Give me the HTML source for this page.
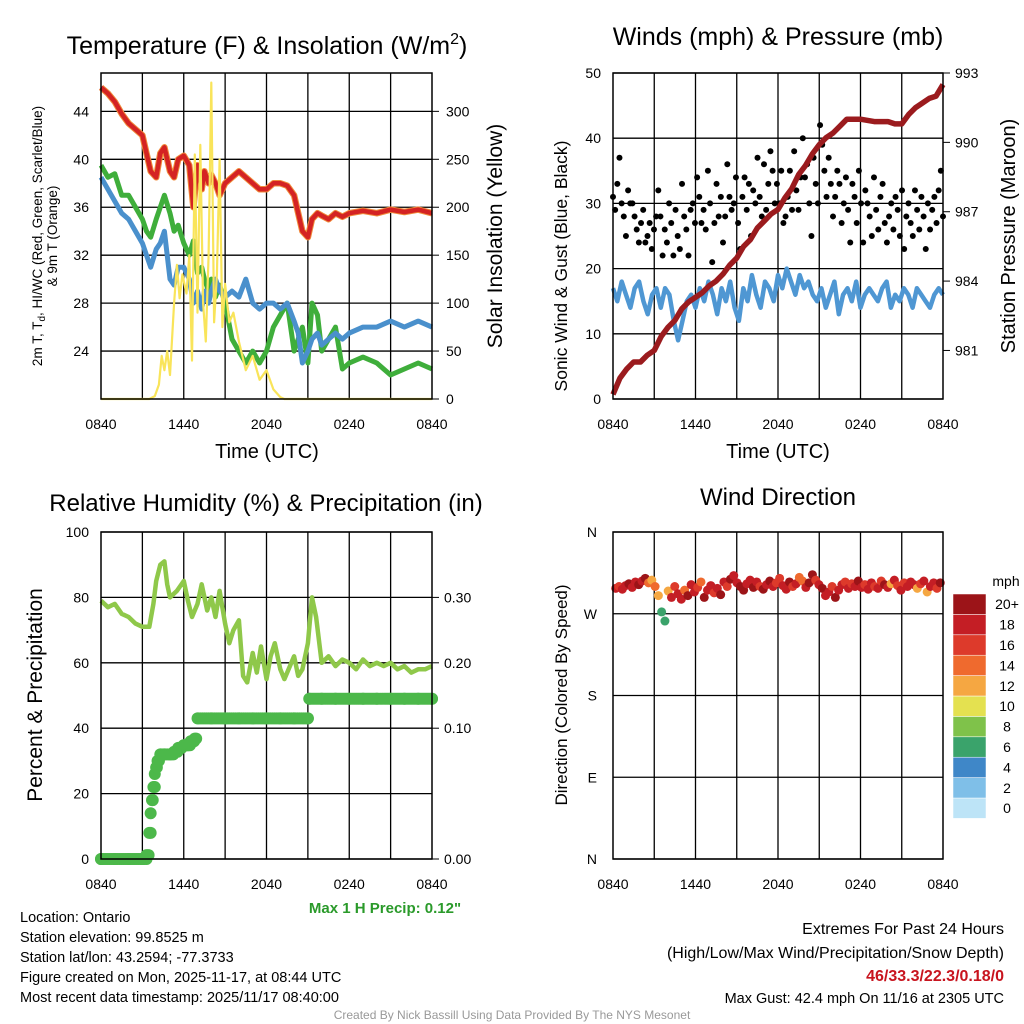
<!DOCTYPE html>
<html><head><meta charset="utf-8">
<style>
body{margin:0;background:#fff;}
svg{display:block;font-family:"Liberation Sans",sans-serif;}
</style></head>
<body>
<svg id="c" width="1024" height="1024" viewBox="0 0 1024 1024" xmlns="http://www.w3.org/2000/svg"></svg>
<script>
// ---------- data ----------
const xTickLabels=["0840","1440","2040","0240","0840"];
const tempT=[0,0.5,1,1.5,2,2.5,3,3.3,3.6,4,4.3,4.6,5,5.3,5.6,6,6.4,6.7,7,7.3,7.5,7.8,8,8.3,8.6,9,9.5,10,10.5,11,11.5,12,12.5,13,13.5,14,14.3,14.6,15,15.3,15.7,16,16.5,17,17.5,18,19,20,21,22,23,24];
const tempRed=[46,45.5,44.8,43.8,43,42.5,42,40.5,39,38.5,40.5,41,39,38.5,40,40.3,39.5,36,39.5,37.5,39,38,38.7,38,37,38,38.5,39,38.5,38,37.5,37.5,38,38,37.8,37,35.5,34,33.5,35,35.5,35.3,35,35.5,35.2,35.5,35.7,35.5,35.8,35.6,35.8,35.5];
const tempGreen=[39.5,38.5,38.8,37,37,36,35,34,33.5,35,36,37,35.5,34,34.5,33,32,33.2,30.5,31,30,29,30,28.5,29.5,28,25,24,23,24,23,24,26,27,28,24,25,26,23,28,27,24,25,26,22.5,23,23.5,23,22,22.5,23,22.5];
const tempBlue=[38.5,37.5,36.5,35.5,35,34,33,32,31,32.5,33,34,30,29.5,31,31,30,28,29,27.5,29,28,29,30,29,28.5,29,28.5,30,28,27.5,28,28,27.5,28,26.5,25.5,23,24,25,25.5,24.5,25,25.5,25,25.5,26,26,26.5,26,26.5,26];
const solarT=[0,3.5,3.9,4.2,4.4,4.6,4.8,5,5.3,5.5,5.7,5.9,6.2,6.4,6.6,6.8,7,7.2,7.4,7.6,7.8,8,8.2,8.4,8.6,8.8,9,9.3,9.6,10,10.5,11,11.5,12,12.5,13,13.3,24];
const solar=[0,0,3,15,45,30,50,25,100,140,105,130,110,150,40,255,90,265,100,60,150,330,80,130,250,75,120,80,90,60,30,45,20,30,10,2,0,0];
const windT=[];const wind=[17,15,18,16,14,17,18,15,13,16,17,14,17,16,12,9,12,15,16,14,17,15,18,16,13,17,15,18,14,12,17,15,19,16,14,18,17,15,19,17,20,18,16,19,17,18,16,15,17,14,16,18,13,16,17,15,18,14,16,17,16,15,17,18,14,16,15,17,16,14,17,16,15,14,16,17,16];
const gustT=[];const gust=[31,29,33,37,30,28,25,32,30,30,28,26,24,27,29,24,25,27,23,26,28,32,28,22,26,24,30,27,22,29,25,23,33,28,26,22,29,30,27,34,31,27,29,26,35,30,21,27,33,28,31,24,28,36,31,29,30,34,27,23,31,34,29,33,25,32,30,37,31,28,36,29,33,38,35,30,33,30,35,27,28,31,35,29,38,32,29,34,40,34,36,30,25,37,33,30,42,39,35,31,37,33,28,31,35,33,27,30,34,29,24,33,31,27,35,30,24,32,30,28,25,34,29,26,31,33,27,24,28,30,26,31,29,25,32,23,28,30,27,25,32,29,26,31,28,23,30,26,29,31,27,32,35,28];
const presT=[0,0.5,1,1.5,2,2.5,3,3.5,4,4.5,5,5.5,6,6.5,7,7.5,8,8.5,9,9.5,10,10.5,11,11.5,12,12.5,13,13.5,14,14.5,15,15.5,16,16.5,17,18,19,20,20.5,21,21.5,22,22.5,23,23.5,24];
const pres=[979.1,979.8,980.2,980.5,980.5,980.8,981.0,981.6,982.0,982.3,982.8,983.1,983.3,983.5,983.8,984.0,984.3,984.7,985.0,985.5,985.8,986.3,986.6,986.9,987.1,987.6,988.0,988.6,989.0,989.5,989.9,990.2,990.4,990.7,991.0,991.0,990.9,990.9,990.8,990.8,991.2,991.5,991.7,991.9,992.0,992.5];
const rhT=[0,0.5,1,1.5,2,2.5,3,3.5,3.8,4,4.3,4.6,4.8,5,5.5,6,6.3,6.6,7,7.3,7.7,8,8.3,8.6,9,9.3,9.6,10,10.3,10.6,11,11.3,11.6,12,12.3,12.6,13,13.3,13.6,14,14.3,14.6,15,15.3,15.6,16,16.5,17,17.5,18,18.5,19,19.5,20,20.5,21,21.5,22,22.5,23,23.5,24];
const rh=[79,77,78,75,74,72,71,71,78,85,90,91,84,80,82,85,79,74,78,84,76,80,74,82,72,66,70,73,56,54,63,57,65,55,62,66,58,55,58,62,56,58,66,80,74,60,62,59,61,60,58,61,59,60,59,60,58,59,57,58,58,59];
const precT=[0,1,2,3,3.3,3.5,3.6,3.7,3.8,3.9,4,4.1,4.3,4.6,5,5.3,5.6,6,6.3,6.5,6.8,7,8,9,10,11,12,13,14,15,15.1,16,17,18,19,20,21,22,23,24];
const precip=[0,0,0,0,0.003,0.02,0.035,0.045,0.055,0.065,0.07,0.075,0.08,0.08,0.08,0.082,0.085,0.087,0.087,0.09,0.092,0.115,0.115,0.115,0.115,0.115,0.115,0.115,0.115,0.115,0.145,0.145,0.145,0.145,0.145,0.145,0.145,0.145,0.145,0.145];
const precTicks=[0,0.1,0.2,0.3];
const precTickLabels=["0.00","0.10","0.20","0.30"];
const dirT=[];
const dir=[298,300,297,301,303,299,305,302,306,309,304,307,300,290,272,262,295,288,300,292,286,296,290,302,294,299,305,288,296,301,293,298,291,305,300,308,312,304,300,296,303,307,299,305,300,297,302,306,300,304,309,301,297,305,300,303,310,306,299,304,313,307,302,298,290,294,300,288,296,302,305,298,303,300,306,299,302,297,304,300,298,306,302,299,303,307,301,296,304,300,305,302,298,303,306,294,300,304,298,304];
const dirSpd=[18,17,19,18,20,19,18,21,19,20,14,13,15,12,7,6,13,18,16,19,18,14,20,18,19,17,15,20,19,18,16,18,20,19,17,20,18,19,20,21,19,18,20,18,17,20,19,20,18,16,17,19,18,20,17,18,15,14,19,20,21,17,18,20,19,18,17,20,19,18,17,18,16,19,20,18,17,19,18,16,18,17,20,19,13,18,16,19,17,18,19,18,13,17,18,12,19,18,17,20];
const cbLabels=["0","2","4","6","8","10","12","14","16","18","20+"];
const cbColors=["#bde4f7","#7fbfe8","#3f87c8","#3aa36b","#7fc24a","#e4e150","#f5a742","#ef6a2e","#dd3a2b","#c41e25","#9c1418"];
for(let i=0;i<wind.length;i++)windT.push(i*24/(wind.length-1));
for(let i=0;i<gust.length;i++)gustT.push(i*24/(gust.length-1));
for(let i=0;i<dir.length;i++)dirT.push(0.2+i*23.6/(dir.length-1));

// ---------- helpers ----------
const NS="http://www.w3.org/2000/svg";
const svg=document.getElementById('c');
function mk(tag,attrs,parent){const e=document.createElementNS(NS,tag);for(const k in attrs)e.setAttribute(k,attrs[k]);(parent||svg).appendChild(e);return e;}
function txt(s,x,y,size,anchor,extra){const e=mk('text',Object.assign({x:x,y:y,'font-size':size,'text-anchor':anchor||'middle',fill:'#000'},extra||{}));e.textContent=s;return e;}
function tsp(parent,s,attrs){const e=mk('tspan',attrs||{},parent);e.textContent=s;return e;}
function lin(d0,d1,r0,r1){return v=>r0+(v-d0)/(d1-d0)*(r1-r0);}
function pathD(xs,ys,sx,sy){return xs.map((t,i)=>(i?'L':'M')+sx(t).toFixed(1)+','+sy(ys[i]).toFixed(1)).join('');}
function frame(name){
  const g=mk('g',{});
  
  
  return g;
}
function xAxis(g,x0,x1,y0,y1){
  const sx=lin(0,24,x0,x1);
  for(let h=3;h<24;h+=3){const l=mk('line',{x1:sx(h),x2:sx(h),y1:y0,y2:y1,stroke:'#000','stroke-width':1.3},g);
    
    }
  xTickLabels.forEach((s,i)=>{const t=txt(s,sx(i*6),y1+30,14);
    
    });
  return sx;
}
function box(x0,y0,x1,y1){const r=mk('rect',{x:x0,y:y0,width:x1-x0,height:y1-y0,fill:'none',stroke:'#000','stroke-width':1.5});
  
  }

// ---------- Panel 1 ----------
(function(){
  const x0=101,x1=432,y0=73,y1=399;
  const g=frame('temperature');
  const sy=lin(20,47.2,y1,y0), sy2=lin(0,340,y1,y0);
  [24,28,32,36,40,44].forEach(v=>{const l=mk('line',{x1:x0,x2:x1,y1:sy(v),y2:sy(v),stroke:'#000','stroke-width':1.3},g);
    
    
    const t=txt(String(v),x0-12,sy(v)+5,14,'end');
    
    });
  [0,50,100,150,200,250,300].forEach(v=>{mk('line',{x1:x1,x2:x1+7,y1:sy2(v),y2:sy2(v),stroke:'#000'});
    const t=txt(String(v),x1+14,sy2(v)+5,14,'start');
    
    });
  const sx=xAxis(g,x0,x1,y0,y1);
  let p=mk('path',{d:pathD(tempT,tempGreen,sx,sy),fill:'none',stroke:'#3fae3b','stroke-width':5,'stroke-linejoin':'round'});
  
  
  p=mk('path',{d:pathD(tempT,tempBlue,sx,sy),fill:'none',stroke:'#4a90cc','stroke-width':5,'stroke-linejoin':'round'});
  
  
  p=mk('path',{d:pathD(tempT,tempRed,sx,sy),fill:'none',stroke:'#f08a3a','stroke-width':6.5,'stroke-linejoin':'round'});
  
  
  p=mk('path',{d:pathD(tempT,tempRed,sx,sy),fill:'none',stroke:'#d42323','stroke-width':4.5,'stroke-linejoin':'round'});
  
  
  p=mk('path',{d:pathD(solarT,solar,sx,sy2),fill:'none',stroke:'#f9e45a','stroke-width':2.2,'stroke-linejoin':'round'});
  
  
  box(x0,y0,x1,y1);
  let t=mk('text',{x:267,y:54,'font-size':25,'text-anchor':'middle'});
  tsp(t,'Temperature (F) & Insolation (W/m');
  tsp(t,'2',{dy:-10,'font-size':16});
  tsp(t,')',{dy:10});
  
  
  t=txt('Time (UTC)',267,458,20);
  
  
  t=mk('text',{x:0,y:0,'font-size':13.5,'text-anchor':'middle',transform:'translate(42,236) rotate(-90)'});
  tsp(t,'2m T, T');
  tsp(t,'d',{dy:3,'font-size':10});
  tsp(t,', HI/WC (Red, Green, Scarlet/Blue)',{dy:-3});
  
  
  t=txt('& 9m T (Orange)',0,0,13.5,'middle',{transform:'translate(57,236) rotate(-90)'});
  
  
  t=txt('Solar Insolation (Yellow)',0,0,21,'middle',{transform:'translate(502,236) rotate(-90)'});
  
  
})();

// ---------- Panel 2 ----------
(function(){
  const x0=613,x1=943,y0=73,y1=399;
  const g=frame('winds');
  const sy=lin(0,50,y1,y0), sy2=lin(978.9,993,y1,y0);
  [0,10,20,30,40,50].forEach(v=>{const l=mk('line',{x1:x0,x2:x1,y1:sy(v),y2:sy(v),stroke:'#000','stroke-width':1.3},g);
    
    
    const t=txt(String(v),x0-12,sy(v)+5,14,'end');
    
    });
  [981,984,987,990,993].forEach(v=>{mk('line',{x1:x1,x2:x1+7,y1:sy2(v),y2:sy2(v),stroke:'#000'});
    const t=txt(String(v),x1+12,sy2(v)+5,14,'start');
    
    });
  const sx=xAxis(g,x0,x1,y0,y1);
  let p=mk('path',{d:pathD(windT,wind,sx,sy),fill:'none',stroke:'#4f97d3','stroke-width':4.5,'stroke-linejoin':'round'});
  
  
  gust.forEach((v,i)=>{const c=mk('circle',{cx:sx(gustT[i]),cy:sy(v),r:3,fill:'#000'});
    
    });
  p=mk('path',{d:pathD(presT,pres,sx,sy2),fill:'none',stroke:'#9b1b1e','stroke-width':5.5,'stroke-linejoin':'round'});
  
  
  box(x0,y0,x1,y1);
  let t=txt('Winds (mph) & Pressure (mb)',778,45,25);
  
  
  t=txt('Time (UTC)',778,458,20);
  
  
  t=txt('Sonic Wind & Gust (Blue, Black)',0,0,17.5,'middle',{transform:'translate(567,266) rotate(-90)'});
  
  
  t=txt('Station Pressure (Maroon)',0,0,20,'middle',{transform:'translate(1015,236) rotate(-90)'});
  
  
})();

// ---------- Panel 3 ----------
(function(){
  const x0=101,x1=432,y0=532,y1=859;
  const g=frame('humidity');
  const sy=lin(0,100,y1,y0);
  const pScale=v=>(v<=0.1)?v/0.1*40:40+(v-0.1)/0.1*20;
  [0,20,40,60,80,100].forEach(v=>{const l=mk('line',{x1:x0,x2:x1,y1:sy(v),y2:sy(v),stroke:'#000','stroke-width':1.3},g);
    
    
    const t=txt(String(v),x0-12,sy(v)+5,14,'end');
    
    });
  precTicks.forEach((v,i)=>{const y=sy(pScale(v));mk('line',{x1:x1,x2:x1+7,y1:y,y2:y,stroke:'#000'});
    const t=txt(precTickLabels[i],x1+12,y+5,14,'start');
    
    });
  const sx=xAxis(g,x0,x1,y0,y1);
  let p=mk('path',{d:pathD(rhT,rh,sx,sy),fill:'none',stroke:'#8fc84a','stroke-width':4.5,'stroke-linejoin':'round'});
  
  
  precip.forEach((v,i)=>{const c=mk('circle',{cx:sx(precT[i]),cy:sy(pScale(v)),r:6,fill:'#4cb84a'});
    
    });
  for(let tt=0;tt<=24;tt+=0.15){const j=precT.findIndex(q=>q>tt);const i=j<0?precT.length-1:Math.max(0,j-1);
    const c=mk('circle',{cx:sx(tt),cy:sy(pScale(precip[i])),r:6,fill:'#4cb84a'});
    
    }
  box(x0,y0,x1,y1);
  let t=txt('Relative Humidity (%) & Precipitation (in)',266,511,24);
  
  
  t=txt('Percent & Precipitation',0,0,21,'middle',{transform:'translate(42,695) rotate(-90)'});
  
  
  t=txt('Max 1 H Precip: 0.12"',385,913,15,'middle',{fill:'#2a9a2a','font-weight':'bold'});
  
  
})();

// ---------- Panel 4 ----------
(function(){
  const x0=613,x1=943,y0=532,y1=859;
  const g=frame('wind-direction');
  const sy=lin(0,360,y1,y0);
  ['N','E','S','W','N'].forEach((s,i)=>{const v=i*90;const l=mk('line',{x1:x0,x2:x1,y1:sy(v),y2:sy(v),stroke:'#000','stroke-width':1.3},g);
    
    
    const t=txt(s,x0-16,sy(v)+5,14,'end');
    
    });
  const sx=xAxis(g,x0,x1,y0,y1);
  const colorFor=s=>cbColors[Math.min(10,Math.max(0,Math.floor(s/2)))];
  dir.forEach((v,i)=>{const c=mk('circle',{cx:sx(dirT[i]),cy:sy(v),r:4.5,fill:colorFor(dirSpd[i])});
    
    });
  box(x0,y0,x1,y1);
  let t=txt('Wind Direction',778,505,24);
  
  
  t=txt('Direction (Colored By Speed)',0,0,17,'middle',{transform:'translate(567,695) rotate(-90)'});
  
  
  const cy0=594,h=20.4;
  cbColors.forEach((c,i)=>{const y=cy0+(10-i)*h;const r=mk('rect',{x:953,y:y,width:33,height:h,fill:c,stroke:'#fff','stroke-width':0.5});
    
    
    const t2=txt(cbLabels[i],1007,y+h/2+5,14);
    
    });
  t=txt('mph',1006,586,14);
  
  
})();

// ---------- footer text ----------
const info=["Location: Ontario","Station elevation: 99.8525 m","Station lat/lon: 43.2594; -77.3733","Figure created on Mon, 2025-11-17, at 08:44 UTC","Most recent data timestamp: 2025/11/17 08:40:00"];
info.forEach((s,i)=>{const t=txt(s,20,922+i*20,14.5,'start');
  
  });
let ft=txt('Extremes For Past 24 Hours',1004,934,16,'end');


ft=txt('(High/Low/Max Wind/Precipitation/Snow Depth)',1004,958,16,'end');


ft=txt('46/33.3/22.3/0.18/0',1004,981,16,'end',{fill:'#c8141e','font-weight':'bold'});


ft=txt('Max Gust: 42.4 mph On 11/16 at 2305 UTC',1004,1003,14.5,'end');


ft=txt('Created By Nick Bassill Using Data Provided By The NYS Mesonet',512,1019,12,'middle',{fill:'#999'});


</script>
</body></html>
